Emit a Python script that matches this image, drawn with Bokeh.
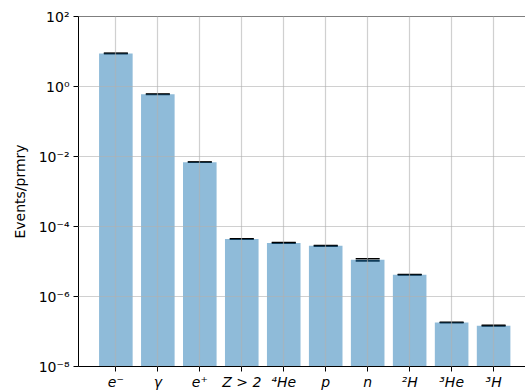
from bokeh.plotting import figure
from bokeh.models import (ColumnDataSource, Range1d, FixedTicker, CustomJSTickFormatter,
                          Whisker, Span, TeeHead)
from bokeh.embed import file_html
from bokeh.resources import INLINE

# Particle species and their yield per primary
species = ["e\u207b", "\u03b3", "e\u207a", "Z > 2", "\u2074He", "p", "n", "\u00b2H", "\u00b3He", "\u00b3H"]
events = [8.8, 0.60, 6.9e-3, 4.4e-5, 3.4e-5, 2.8e-5, 1.12e-5, 4.2e-6, 1.8e-7, 1.47e-7]
errors = [0.1, 0.008, 0.08e-3, 0.08e-5, 0.06e-5, 0.05e-5, 0.08e-5, 0.06e-6, 0.03e-7, 0.03e-7]
y_ticks = [1e-8, 1e-6, 1e-4, 1e-2, 1e0, 1e2]

xs = list(range(len(species)))
src = ColumnDataSource(dict(
    x=xs,
    top=events,
    upper=[v + e for v, e in zip(events, errors)],
    lower=[v - e for v, e in zip(events, errors)],
))

p = figure(width=525, height=392, y_axis_type="log",
           x_range=Range1d(-0.89, 9.76), y_range=Range1d(1e-8, 1e2),
           output_backend="svg", toolbar_location=None,
           min_border_left=78, min_border_right=0, min_border_top=16, min_border_bottom=25)
p.outline_line_color = None
p.background_fill_color = "white"
p.border_fill_color = "white"

p.vbar(x="x", top="top", bottom=1e-8, width=0.8, source=src,
       fill_color="#1f77b4", fill_alpha=0.5, line_color=None)

# error bars with caps
wh = Whisker(base="x", upper="upper", lower="lower", source=src,
             line_color="black", line_width=1.2,
             upper_head=TeeHead(size=24, line_color="black", line_width=1.6),
             lower_head=TeeHead(size=24, line_color="black", line_width=1.6))
p.add_layout(wh)

# top spine
p.add_layout(Span(location=1e2, dimension="width", line_color="black", line_width=1))

font = "DejaVu Sans"

# x axis: species labels
p.xaxis.ticker = FixedTicker(ticks=xs)
p.xaxis.major_label_overrides = {i: s for i, s in enumerate(species)}
p.xaxis.minor_tick_line_color = None
p.xaxis.major_label_text_font = font
p.xaxis.major_label_text_font_style = "italic"
p.xaxis.major_label_text_font_size = "14px"
p.xaxis.major_label_text_color = "black"
p.xaxis.major_label_standoff = 2

# y axis: powers of ten
p.yaxis.ticker = FixedTicker(ticks=y_ticks, minor_ticks=[])
p.yaxis.formatter = CustomJSTickFormatter(code="""
    const sup = {"-": "\u207b", "0": "\u2070", "1": "\u00b9", "2": "\u00b2", "3": "\u00b3",
                 "4": "\u2074", "5": "\u2075", "6": "\u2076", "7": "\u2077", "8": "\u2078", "9": "\u2079"};
    const e = Math.round(Math.log10(tick));
    return "10" + String(e).split("").map(c => sup[c]).join("");
""")
p.yaxis.axis_label = "Events/prmry"
p.yaxis.axis_label_text_font = font
p.yaxis.axis_label_text_font_style = "normal"
p.yaxis.axis_label_text_font_size = "14px"
p.yaxis.axis_label_text_color = "black"
p.yaxis.axis_label_standoff = 8
p.yaxis.major_label_text_font = font
p.yaxis.major_label_text_font_size = "14px"
p.yaxis.major_label_text_color = "black"
p.yaxis.major_label_standoff = 4

for ax in (p.xaxis, p.yaxis):
    ax.axis_line_color = "black"
    ax.axis_line_width = 1
    ax.major_tick_line_color = "black"
    ax.major_tick_out = 5
    ax.major_tick_in = 0

p.xgrid.ticker = FixedTicker(ticks=xs)
p.ygrid.ticker = FixedTicker(ticks=y_ticks, minor_ticks=[])
for g in (p.xgrid, p.ygrid):
    g.grid_line_color = "#b0b0b0"
    g.grid_line_alpha = 0.6
    g.grid_line_width = 1.2
    g.level = "overlay"

open("out.html", "w").write(file_html(p, INLINE))
